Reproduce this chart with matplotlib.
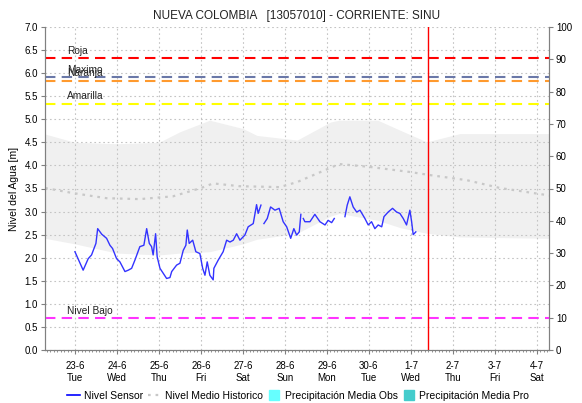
import datetime as dt
import numpy as np
import matplotlib
matplotlib.use("Agg")
import matplotlib.pyplot as plt
import matplotlib.dates as mdates
from matplotlib.lines import Line2D

plt.rcParams['font.family'] = ['Liberation Sans', 'DejaVu Sans']

titulo = "NUEVA COLOMBIA   [13057010] - CORRIENTE: SINU"
base = dt.datetime(2020, 6, 23)

# nivel sensor: horas desde 23-6 00:00 y nivel [m] (None = hueco)
sensor_h = [0, 4.7, 7.6, 9.5, 12, 13, 15.3, 18.1, 20, 21.5, 23.8, 25.7, 28.6, 30.5, 32.4,
            34.3, 37.1, 39.4, 41, 42.5, 43.8, 44.7, 46.1, 47, 48.6, 52.4, 54.3, 55.3,
            58.1, 60, 61.9, 63.4, 64.2, 65.3, 67.3, 69.1, 71.4, 73, 74.3, 75.6, 77.1,
            79, 79.4, 81.9, 84.7, 86.7, 88.6, 90.5, 92.4, 94.3, 97.1, 99, 101.9, 103.8,
            104.7, 106.3, 107.1, 108, 109.9, 111.8, 114.3, 116.7, 119, 121, 123.3, 125.1,
            126.7, 128.2, 129.1, 129.8, 130.5, 131.4, 134.3, 137.1, 140, 142.9, 144.7,
            146.7, 148.2, 151, 154.3, 155.6, 157.1, 159, 161, 162.9, 165.7, 167.6, 169.5,
            171.4, 173.3, 175.3, 176.6, 179, 181.5, 183.8, 185.7, 187.6, 189.5, 191.4,
            192.4, 193.3, 194.8]
sensor_v = [2.13, 1.73, 1.98, 2.06, 2.31, 2.63, 2.51, 2.42, 2.27, 2.20, 1.98, 1.91, 1.70, 1.73, 1.77,
            1.95, 2.24, 2.27, 2.63, 2.31, 2.24, 2.06, 2.52, 2.02, 1.77, 1.55, 1.57, 1.70,
            1.84, 1.88, 2.16, 2.27, 2.60, 2.31, 2.38, 2.13, 2.09, 1.77, 1.62, 1.91, 1.62,
            1.52, 1.77, 1.95, 2.13, 2.38, 2.34, 2.38, 2.52, 2.38, 2.49, 2.67, 2.74, 3.15,
            2.96, 3.14, None, 2.74, 2.85, 3.10, 3.03, 3.07, 2.78, 2.67, 2.42, 2.63,
            2.49, 2.56, 2.94, None, 2.85, 2.78, 2.78, 2.94, 2.78, 2.71, 2.81,
            2.76, 2.85, None, 2.89, 3.14, 3.32, 3.10, 2.99, 3.03, 2.85, 2.71, 2.78,
            2.63, 2.71, 2.67, 2.89, 2.99, 3.07, 2.99, 2.96, 2.85, 2.71, 3.03,
            2.78, 2.50, 2.56]

# nivel medio historico
medio_h = [-17, -1, 18, 37, 56, 72, 79, 94, 117, 127, 151, 168, 191, 203, 224, 243, 271]
medio_v = [3.51, 3.40, 3.29, 3.27, 3.33, 3.51, 3.61, 3.55, 3.53, 3.64, 4.03, 3.97, 3.86,
           3.79, 3.68, 3.51, 3.35]

# rango historico (banda gris)
banda_h = [-17, 0, 24, 48, 60, 77, 96, 104, 127, 146, 151, 173, 186, 201, 220, 271]
banda_max = [4.68, 4.50, 4.47, 4.50, 4.73, 4.98, 4.80, 4.65, 4.55, 4.94, 4.98, 4.98,
             4.76, 4.51, 4.69, 4.69]
banda_min = [2.42, 2.30, 2.10, 2.06, 2.10, 2.13, 2.30, 2.40, 2.53, 2.90, 2.96, 2.81,
             2.65, 2.53, 2.45, 2.42]

umbral_nombres = ["Roja", "Maximo", "Naranja", "Amarilla", "Nivel Bajo"]
umbral_valores = [6.33, 5.92, 5.84, 5.34, 0.69]
umbral_colores = ["#ff0000", "#6a78a8", "#ff9a2e", "#ffff00", "#ff33ff"]

ahora_h = 201.7
xmin_h, xmax_h = -17.1, 270.9


def t(horas):
    return [base + dt.timedelta(hours=h) for h in horas]


fig = plt.figure(figsize=(5.82, 4.03), dpi=100)
ax = fig.add_axes([45 / 582, 1 - 350 / 403, 504 / 582, 323 / 403])
ax2 = ax.twinx()

ax.fill_between(t(banda_h), banda_min, banda_max, color="#f0f0f0", lw=0, zorder=1)
ax.plot(t(medio_h), medio_v, color="#c8c8c8", lw=1.6, ls=(0, (1.2, 2.2)), zorder=2)
sv = np.array([np.nan if v is None else v for v in sensor_v])
ax.plot(t(sensor_h), sv, color="#3333ff", lw=1.0, zorder=4)

for nom, val, col in zip(umbral_nombres, umbral_valores, umbral_colores):
    ax.axhline(val, color=col, lw=1.5, ls=(0, (5, 3)), zorder=3)
    ax.text(base + dt.timedelta(hours=-4.6), val + 0.05, nom, fontsize=7.3, color="#222222",
            va="bottom", ha="left", zorder=5)

ax.axvline(base + dt.timedelta(hours=ahora_h), color="#ff0000", lw=1.0, zorder=5)

ax.set_xlim(base + dt.timedelta(hours=xmin_h), base + dt.timedelta(hours=xmax_h))
ax.set_ylim(0, 7)
ax.set_yticks(np.arange(0, 7.01, 0.5))
ax.yaxis.set_major_formatter(matplotlib.ticker.FormatStrFormatter("%.1f"))
ax.xaxis.set_major_locator(mdates.DayLocator())
ax.xaxis.set_major_formatter(mdates.DateFormatter("%-d-%-m\n%a"))
ax.xaxis.set_minor_locator(mdates.HourLocator(interval=2))
ax.grid(True, color="#c4c4c4", ls=(0, (1.5, 2.5)), lw=0.8)
ax.set_ylabel("Nivel del Agua [m]", fontsize=7.5, labelpad=4)
ax.tick_params(axis="both", labelsize=7, color="#808080", length=3, pad=2)
ax.tick_params(axis="x", which="minor", length=1.5, color="#808080")
ax.tick_params(axis="x", which="major", length=3, pad=5)

ax2.set_ylim(0, 100)
ax2.set_yticks(np.arange(0, 101, 10))
ax2.set_ylabel("Precipitación [mm]", fontsize=7.5, rotation=270, labelpad=20)
ax2.tick_params(axis="y", labelsize=7, color="#808080", length=3, pad=2)

for a in (ax, ax2):
    for s in a.spines.values():
        s.set_color("#808080")
    a.spines["top"].set_visible(False)

ax.set_title(titulo, fontsize=8.5, color="#222222", pad=6)

handles = [Line2D([], [], color="#0000ff", lw=1.2),
           Line2D([], [], color="#c8c8c8", lw=1.6, ls=(0, (1.2, 2.2))),
           Line2D([], [], color="#66ffff", marker="s", ls="none", markersize=7),
           Line2D([], [], color="#44cccc", marker="s", ls="none", markersize=7)]
labels = ["Nivel Sensor", "Nivel Medio Historico", "Precipitación Media Obs",
          "Precipitación Media Pro"]
fig.legend(handles, labels, loc="center", bbox_to_anchor=(298 / 582, 1 - 396 / 403), ncol=4,
           frameon=False, fontsize=7.5, handlelength=1.3, handletextpad=0.35,
           columnspacing=0.45)

fig.savefig("out.png", dpi=100)
